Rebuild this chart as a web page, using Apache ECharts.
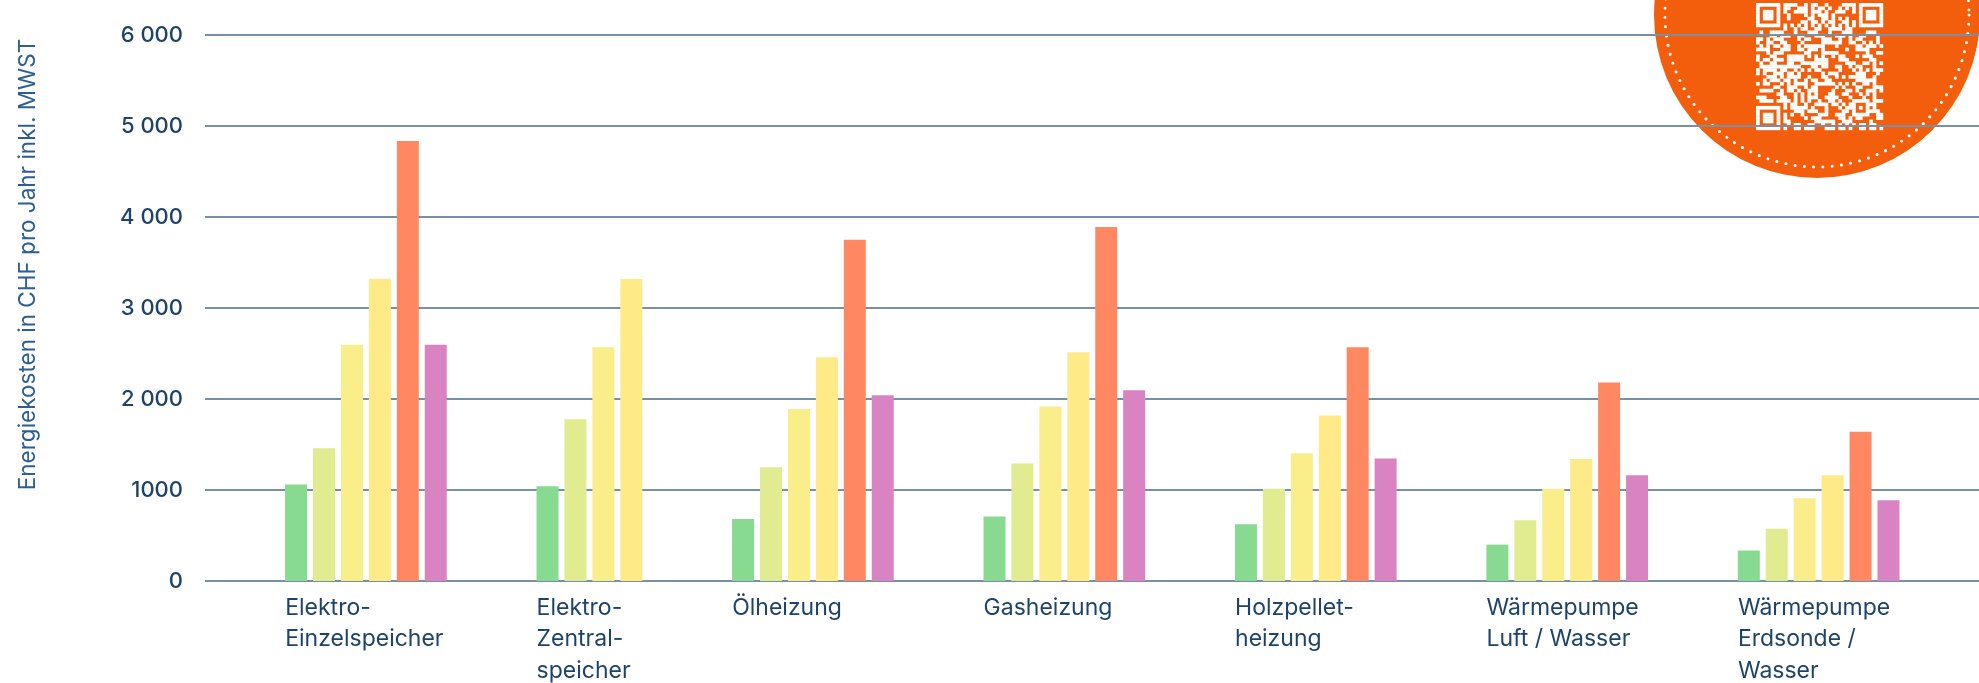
<!DOCTYPE html>
<html>
<head>
<meta charset="utf-8">
<title>Energiekosten Heizsysteme</title>
<script src="https://cdn.jsdelivr.net/npm/echarts@6.0.0/dist/echarts.min.js"></script>
<style>
	html, body { margin: 0; padding: 0; background: #fff; }
	#chart { width: 1979px; height: 683px; }
</style>
</head>
<body>
<div id="chart"></div>
<script>
	// Heizsysteme (Kategorien)
	const categories = [
		'Elektro-\nEinzelspeicher',
		'Elektro-\nZentral-\nspeicher',
		'Ölheizung',
		'Gasheizung',
		'Holzpellet-\nheizung',
		'Wärmepumpe\nLuft / Wasser',
		'Wärmepumpe\nErdsonde /\nWasser'
	];
	// Energiekosten in CHF pro Jahr, je Stufe
	const stufe1 = [1060, 1040, 680, 708, 625, 400, 335];
	const stufe2 = [1460, 1778, 1250, 1292, 1014, 667, 575];
	const stufe3 = [2595, 2570, 1890, 1917, 1403, 1014, 910];
	const stufe4 = [3322, 3320, 2458, 2514, 1819, 1340, 1162];
	const stufe5 = [4835, null, 3750, 3889, 2569, 2180, 1640];
	const stufe6 = [2595, null, 2042, 2097, 1347, 1163, 886];
	const yTicks = [0, 1000, 2000, 3000, 4000, 5000, 6000];
	const yLabels = ['0', '1000', '2 000', '3 000', '4 000', '5 000', '6 000'];

	const allSeries = [stufe1, stufe2, stufe3, stufe4, stufe5, stufe6];
	const seriesNames = ['Stufe 1', 'Stufe 2', 'Stufe 3', 'Stufe 4', 'Stufe 5', 'Stufe 6'];
	const colors = ['#88da90', '#e0ec8f', '#faee8b', '#ffea88', '#ff8862', '#da83c2'];
	const textColor = '#1d4468';

	// Bars sit in slots; each group is followed by 3 empty slots
	const GAP_SLOTS = 3;
	const groupStart = [];
	let pos = 0;
	categories.forEach((c, g) => {
		groupStart.push(pos);
		const n = allSeries.filter(s => s[g] !== null).length;
		pos += n + GAP_SLOTS;
	});
	const labelShift = 0.39; // label starts at left edge of first bar
	const labelValues = groupStart.map(s => s - labelShift);

	const series = allSeries.map((vals, j) => ({
		name: seriesNames[j],
		type: 'bar',
		barWidth: 22,
		barGap: '-100%',
		itemStyle: { color: colors[j] },
		data: vals.map((v, g) => v === null ? null : [groupStart[g] + j, v]).filter(d => d !== null)
	}));

	// QR-like decoration in the orange badge
	function qrCells() {
		const N = 37;
		const on = [];
		const finder = (r, c, r0, c0) => {
			const y = r - r0, x = c - c0;
			if (y < 0 || y > 6 || x < 0 || x > 6) return null;
			if (y === 0 || y === 6 || x === 0 || x === 6) return true;
			if (y >= 2 && y <= 4 && x >= 2 && x <= 4) return true;
			return false;
		};
		for (let r = 0; r < N; r++) {
			on.push([]);
			for (let c = 0; c < N; c++) {
				let v = finder(r, c, 0, 0);
				if (v === null) v = finder(r, c, 0, N - 7);
				if (v === null) v = finder(r, c, N - 7, 0);
				if (v === null) {
					if ((r === 7 && (c < 8 || c > N - 9)) || (c === 7 && (r < 8 || r > N - 9)) ||
						(r === N - 8 && c < 8) || (c === N - 8 && r < 8)) {
						v = false;
					} else if (r === 6 || c === 6) {
						v = (r + c) % 2 === 0;
					} else if (r >= 28 && r <= 32 && c >= 28 && c <= 32) {
						const d = Math.max(Math.abs(r - 30), Math.abs(c - 30));
						v = d !== 1;
					} else {
						let h = Math.imul(r * 374761393 + c * 668265263, 1274126177);
						h = h ^ (h >>> 15);
						h = Math.imul(h, 2246822519);
						v = ((h ^ (h >>> 13)) & 7) < 4;
					}
				}
				on[r].push(v);
			}
		}
		const rects = [];
		const m = 3.43, x0 = 1756, y0 = 3;
		for (let r = 0; r < N; r++) {
			let c = 0;
			while (c < N) {
				if (on[r][c]) {
					let e = c;
					while (e + 1 < N && on[r][e + 1]) e++;
					rects.push({
						type: 'rect',
						shape: { x: x0 + c * m, y: y0 + r * m, width: (e - c + 1) * m + 0.3, height: m + 0.3 },
						style: { fill: '#ffffff' }
					});
					c = e + 1;
				} else {
					c++;
				}
			}
		}
		return rects;
	}

	const myChart = echarts.init(document.getElementById('chart'));
	const option = {
		animation: false,
		grid: { left: 205, right: 0, top: 35, bottom: 102, containLabel: false, outerBoundsMode: 'none' },
		xAxis: {
			type: 'value',
			min: -3.26,
			max: 60.24,
			axisLine: { show: false },
			axisTick: { show: false },
			splitLine: { show: false },
			axisLabel: {
				customValues: labelValues,
				align: 'left',
				verticalAlign: 'top',
				margin: 11,
				color: textColor,
				fontFamily: 'Inter',
				fontSize: 23,
				lineHeight: 31.5,
				formatter: function(v) {
					const g = labelValues.findIndex(x => Math.abs(x - v) < 0.01);
					return g >= 0 ? categories[g] : '';
				}
			}
		},
		yAxis: {
			type: 'value',
			min: 0,
			max: 6000,
			interval: 1000,
			name: 'Energiekosten in CHF pro Jahr inkl. MWST',
			nameLocation: 'middle',
			nameGap: 165,
			nameTextStyle: {
				color: '#2a5f90',
				fontFamily: 'Inter',
				fontSize: 22.5,
				padding: [0, 0, 0, 87]
			},
			axisLine: { show: false },
			axisTick: { show: false },
			axisLabel: {
				margin: 22,
				color: textColor,
				fontFamily: 'Inter',
				fontSize: 22,
				fontWeight: 500,
				formatter: function(v) {
					return yLabels[yTicks.indexOf(v)];
				}
			},
			splitLine: { lineStyle: { color: '#7890a6', width: 2 } }
		},
		series: series,
		graphic: [{
			type: 'group',
			z: 100,
			children: [{
				type: 'circle',
				shape: { cx: 1817, cy: 15, r: 163 },
				style: { fill: '#f25e0c' }
			}, {
				type: 'circle',
				shape: { cx: 1817, cy: 15, r: 152 },
				style: { fill: null, stroke: '#ffffff', lineWidth: 3, lineDash: [0.01, 9.3], lineCap: 'round' }
			}].concat(qrCells())
		}]
	};
	myChart.setOption(option);
	window.addEventListener('resize', function() {
		myChart.resize();
	});
</script>
</body>
</html>
